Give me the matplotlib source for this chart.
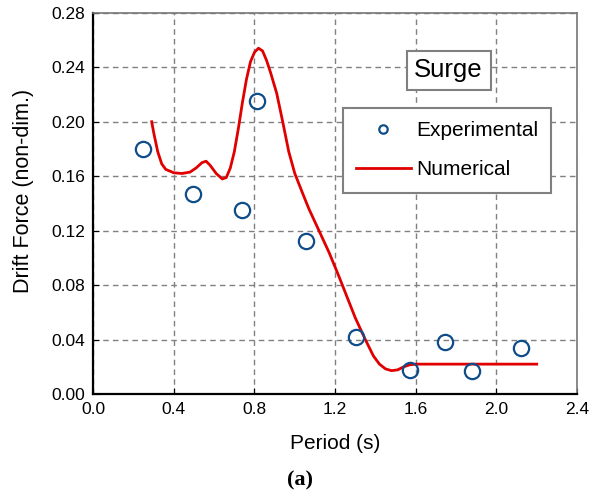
import matplotlib
matplotlib.use('Agg')
import matplotlib.pyplot as plt

plt.rcParams['font.family'] = ['Liberation Sans', 'DejaVu Sans']

# experimental points
exp_period = [0.247, 0.494, 0.736, 0.81, 1.057, 1.304, 1.57, 1.743, 1.877, 2.123]
exp_force = [0.180, 0.147, 0.1355, 0.215, 0.1127, 0.042, 0.0177, 0.038, 0.017, 0.034]

# numerical curve
num_period = [0.29, 0.30, 0.32, 0.34, 0.36, 0.40, 0.44, 0.48, 0.51, 0.54,
              0.56, 0.58, 0.61, 0.64, 0.66, 0.68, 0.70, 0.72, 0.74, 0.76,
              0.78, 0.80, 0.82, 0.84, 0.86, 0.88, 0.91, 0.94, 0.97, 1.00,
              1.04, 1.07, 1.12, 1.17, 1.22, 1.26, 1.30, 1.35, 1.39, 1.42,
              1.45, 1.48, 1.51, 1.54, 1.57, 1.60, 2.20]
num_force = [0.200, 0.192, 0.178, 0.169, 0.165, 0.1625, 0.162, 0.163, 0.166, 0.170,
             0.171, 0.168, 0.162, 0.158, 0.159, 0.166, 0.178, 0.195, 0.214, 0.231,
             0.244, 0.251, 0.254, 0.252, 0.245, 0.236, 0.221, 0.200, 0.178, 0.162,
             0.147, 0.136, 0.120, 0.104, 0.086, 0.071, 0.056, 0.040, 0.028, 0.022,
             0.0185, 0.0172, 0.0178, 0.020, 0.0215, 0.022, 0.022]

xticks = [0.0, 0.4, 0.8, 1.2, 1.6, 2.0, 2.4]
yticks = [0.00, 0.04, 0.08, 0.12, 0.16, 0.20, 0.24, 0.28]

fig = plt.figure(figsize=(5.9, 4.92), dpi=100)
ax = fig.add_axes([0.158, 0.199, 0.820, 0.775])

ax.plot(exp_period, exp_force, linestyle='none', marker='o', markersize=11,
        markerfacecolor='none', markeredgecolor='#0f4c8a', markeredgewidth=1.6,
        label='Experimental', zorder=3)
ax.plot(num_period, num_force, color='#e00000', linewidth=2.0, label='Numerical', zorder=2)

ax.set_xlim(0, 2.4)
ax.set_ylim(0, 0.28)
ax.set_xticks(xticks)
ax.set_yticks(yticks)
ax.set_xticklabels([f'{v:.1f}' for v in xticks])
ax.set_yticklabels([f'{v:.2f}' for v in yticks])
ax.tick_params(direction='in', length=4, labelsize=12.5, pad=6)
ax.grid(True, color='#808080', linestyle=(0, (4, 3)), linewidth=1.0)

for s in ['left', 'bottom']:
    ax.spines[s].set_color('black')
    ax.spines[s].set_linewidth(1.6)
for s in ['top', 'right']:
    ax.spines[s].set_color('#777777')
    ax.spines[s].set_linewidth(1.2)

ax.set_xlabel('Period (s)', fontsize=15, labelpad=12)
ax.set_ylabel('Drift Force (non-dim.)', fontsize=15.5)
ax.yaxis.set_label_coords(-0.122, 0.533)

leg = ax.legend(loc='upper left', bbox_to_anchor=(0.516, 0.751), borderaxespad=0,
                fontsize=15, fancybox=False, edgecolor='#808080', framealpha=1,
                markerscale=0.55, handlelength=2.6, handletextpad=0.25,
                borderpad=0.65, labelspacing=0.95)
leg.get_frame().set_linewidth(1.5)

ax.text(0.7345, 0.849, 'Surge', transform=ax.transAxes, fontsize=18.5, ha='center', va='center',
        bbox=dict(boxstyle='square,pad=0.3', facecolor='white', edgecolor='#808080', linewidth=1.5))

fig.text(0.508, 0.003, '(a)', family='Liberation Serif', fontweight='bold', fontsize=16,
         ha='center', va='bottom')

fig.savefig('out.png', dpi=100)
